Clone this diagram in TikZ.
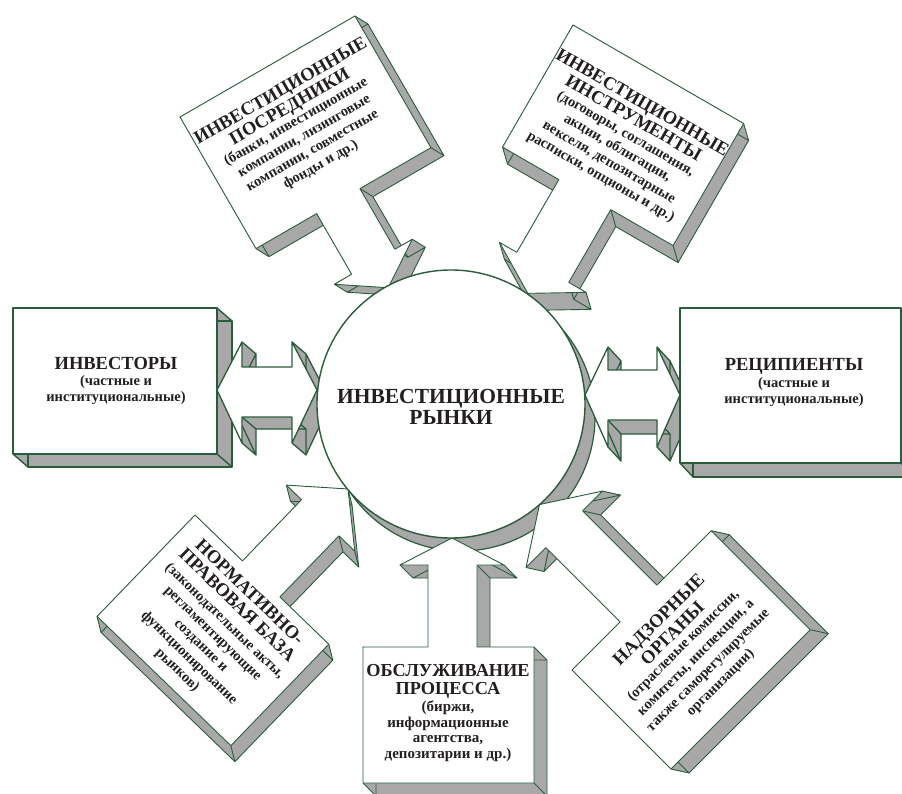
\documentclass[tikz,border=0pt]{standalone}
\usepackage{fontspec}
\setmainfont{Liberation Serif}
\usetikzlibrary{calc}
\definecolor{dg}{RGB}{42,92,60}
\definecolor{sg}{RGB}{168,168,168}
\definecolor{tx}{RGB}{35,31,32}
\tikzset{
  ttl/.style={font=\bfseries\fontsize{18.5}{18}\selectfont,text=tx,align=center,inner sep=0pt},
  sbt/.style={font=\bfseries\fontsize{14.5}{16.5}\selectfont,text=tx,align=center,inner sep=0pt},
}
% #1 prefix, #2 number of points, #3 dx, #4 dy, #5 line width
\newcommand{\prismdraw}[5]{%
  \foreach \i in {1,...,#2}{%
    \pgfmathtruncatemacro{\j}{mod(\i,#2)+1}%
    \fill[sg] (#1\i) -- (#1\j) -- ($(#1\j)+(#3,#4)$) -- ($(#1\i)+(#3,#4)$) -- cycle;
  }%
  \draw[dg,line width=#5,line join=round] ($(#11)+(#3,#4)$) \foreach \i in {2,...,#2}{ -- ($(#1\i)+(#3,#4)$) } -- cycle;
  \foreach \i in {1,...,#2}{\draw[dg,line width=#5] (#1\i) -- ($(#1\i)+(#3,#4)$);}%
  \filldraw[fill=white,draw=dg,line width=#5,line join=round] (#11) \foreach \i in {2,...,#2}{ -- (#1\i) } -- cycle;
}
\begin{document}
\begin{tikzpicture}[x=1pt,y=-1pt]
\useasboundingbox (0,0) rectangle (902,794);
\clip (0,0) rectangle (902,794);
% circle shadow
\filldraw[fill=sg,draw=dg,line width=1.2pt] (461,417) circle[radius=134pt];

% ---- top-left callout
\begin{scope}[shift={(180,117)},rotate=30]
  \path (0,0) coordinate (A1) (202,0) coordinate (A2) (202,152) coordinate (A3)
        (120,152) coordinate (A4) (120,222) coordinate (A5) (140,222) coordinate (A6)
        (95,252) coordinate (A7) (50,222) coordinate (A8) (70,222) coordinate (A9)
        (70,152) coordinate (A10) (0,152) coordinate (A11)
        (100,38) coordinate (AT) (98,87) coordinate (AS);
\end{scope}
\prismdraw{A}{11}{13}{8}{0.9pt}
\node[ttl,rotate=30] (tlT) at (AT) {ИНВЕСТИЦИОННЫЕ\\ПОСРЕДНИКИ};
\node[sbt,rotate=30] (tlS) at (AS) {(банки, инвестиционные\\компании, лизинговые\\компании, совместные\\фонды и др.)};

% ---- top-right callout
\begin{scope}[shift={(573,25)},rotate=-30]
  \path (0,0) coordinate (T1) (197,0) coordinate (T2) (197,141) coordinate (T3)
        (125,141) coordinate (T4) (125,225) coordinate (T5) (145,225) coordinate (T6)
        (95,255) coordinate (T7) (45,225) coordinate (T8) (65,225) coordinate (T9)
        (65,141) coordinate (T10) (0,141) coordinate (T11)
        (99,41) coordinate (TT) (100,93) coordinate (TS);
\end{scope}
\prismdraw{T}{11}{5}{17}{0.9pt}
\node[ttl,rotate=-30] (trT) at (TT) {ИНВЕСТИЦИОННЫЕ\\ИНСТРУМЕНТЫ};
\node[sbt,rotate=-30] (trS) at (TS) {(договоры, соглашения,\\акции, облигации,\\векселя, депозитарные\\расписки, опционы и др.)};

% ---- bottom-left callout
\begin{scope}[shift={(195,515)},rotate=-44]
  \path (0,0) coordinate (B1) (66,0) coordinate (B2) (66,-85) coordinate (B3)
        (45,-85) coordinate (B4) (92,-125) coordinate (B5) (140,-85) coordinate (B6)
        (118,-85) coordinate (B7) (118,0) coordinate (B8) (186,0) coordinate (B9)
        (186,141) coordinate (B10) (0,141) coordinate (B11)
        (93,26) coordinate (BT) (95,90) coordinate (BS);
\end{scope}
\prismdraw{B}{11}{4}{16}{0.9pt}
\node[ttl,rotate=-44] (blT) at (BT) {НОРМАТИВНО-\\ПРАВОВАЯ БАЗА};
\node[sbt,rotate=-44,font=\bfseries\fontsize{14.5}{17}\selectfont] (blS) at (BS) {(законодательные акты,\\регламентирующие\\создание и\\функционирование\\рынков)};

% ---- bottom-right callout
\begin{scope}[shift={(572,670)},rotate=45]
  \path (0,0) coordinate (D1) (68,0) coordinate (D2) (68,-105) coordinate (D3)
        (40,-105) coordinate (D4) (94,-140) coordinate (D5) (148,-105) coordinate (D6)
        (120,-105) coordinate (D7) (120,0) coordinate (D8) (197,0) coordinate (D9)
        (197,140) coordinate (D10) (0,140) coordinate (D11)
        (97,35) coordinate (DT) (96,88) coordinate (DS);
\end{scope}
\prismdraw{D}{11}{18}{4}{0.9pt}
\node[ttl,rotate=45,font=\bfseries\fontsize{18.5}{19.5}\selectfont] (brT) at (DT) {НАДЗОРНЫЕ\\ОРГАНЫ};
\node[sbt,rotate=45,font=\bfseries\fontsize{14.5}{17.5}\selectfont] (brS) at (DS) {(отраслевые комиссии,\\комитеты, инспекции, а\\также саморегулируемые\\организации)};

% ---- bottom-center callout
\path (363,647) coordinate (C1) (428,647) coordinate (C2) (428,565) coordinate (C3)
      (400,565) coordinate (C4) (452,538) coordinate (C5) (504,565) coordinate (C6)
      (477,565) coordinate (C7) (477,647) coordinate (C8) (534,647) coordinate (C9)
      (534,783) coordinate (C10) (363,783) coordinate (C11);
\prismdraw{C}{11}{13}{13}{0.9pt}
\node[ttl,font=\bfseries\fontsize{18.3}{18}\selectfont] (bcT) at (448,681) {ОБСЛУЖИВАНИЕ\\ПРОЦЕССА};
\node[sbt,font=\bfseries\fontsize{15}{15.5}\selectfont] (bcS) at (448,731) {(биржи,\\информационные\\агентства,\\депозитарии и др.)};

% ---- left box and arrow
\path (13,308) coordinate (E1) (217,308) coordinate (E2) (217,454) coordinate (E3) (13,454) coordinate (E4);
\prismdraw{E}{4}{15}{13}{1.4pt}
\node[ttl] (invT) at (116,363) {ИНВЕСТОРЫ};
\node[sbt,font=\bfseries\fontsize{14.5}{16}\selectfont] (invS) at (116,390) {(частные и\\институциональные)};
\path (217,390) coordinate (L1) (242,342) coordinate (L2) (242,367) coordinate (L3)
      (292,367) coordinate (L4) (292,342) coordinate (L5) (317,390) coordinate (L6)
      (292,443) coordinate (L7) (292,417) coordinate (L8) (242,417) coordinate (L9)
      (242,443) coordinate (L10);
\prismdraw{L}{10}{14}{12}{1.3pt}

% ---- right arrow and box
\path (585,395) coordinate (R1) (608,347) coordinate (R2) (608,370) coordinate (R3)
      (657,370) coordinate (R4) (657,347) coordinate (R5) (680,395) coordinate (R6)
      (657,447) coordinate (R7) (657,420) coordinate (R8) (608,420) coordinate (R9)
      (608,447) coordinate (R10);
\prismdraw{R}{10}{13}{14}{1.3pt}
\path (680,308) coordinate (F1) (901,308) coordinate (F2) (901,463) coordinate (F3) (680,463) coordinate (F4);
\prismdraw{F}{4}{13}{14}{1.4pt}
\node[ttl] (recT) at (794,366) {РЕЦИПИЕНТЫ};
\node[sbt,font=\bfseries\fontsize{14.5}{16}\selectfont] (recS) at (794,392) {(частные и\\институциональные)};

% ---- central circle
\filldraw[fill=white,draw=dg,line width=1.4pt] (451,404) circle[radius=134pt];
\node[ttl,font=\bfseries\fontsize{21.5}{21}\selectfont] (mkt) at (451,407) {ИНВЕСТИЦИОННЫЕ\\РЫНКИ};
\end{tikzpicture}
\end{document}
